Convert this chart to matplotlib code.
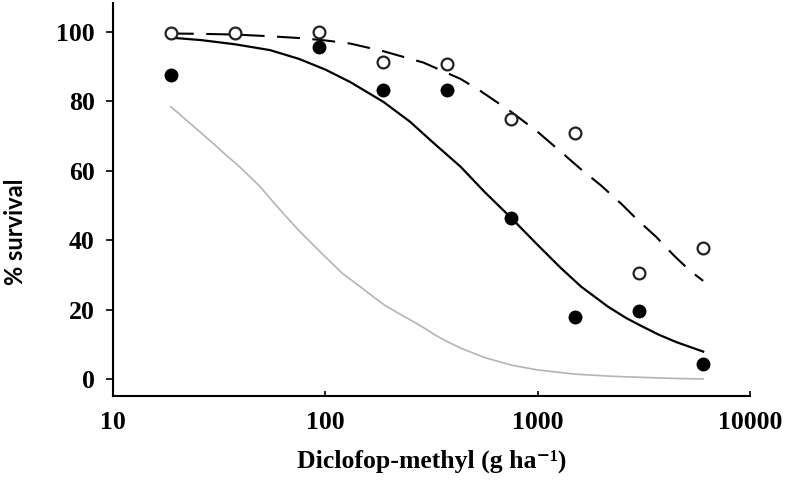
import matplotlib
matplotlib.use("Agg")
from matplotlib import pyplot as plt

plt.rcParams["font.family"] = ["Liberation Serif", "DejaVu Serif"]
plt.rcParams["font.weight"] = "bold"

# doses (g ha-1) and observed survival
dose_open = [18.75, 37.5, 93.75, 187.5, 375, 750, 1500, 3000, 6000]
surv_open = [99.8, 99.8, 100.0, 91.4, 90.8, 74.9, 70.8, 30.5, 37.7]
dose_fill = [18.75, 93.75, 187.5, 375, 750, 1500, 3000, 6000]
surv_fill = [87.5, 95.7, 83.3, 83.3, 46.4, 18.0, 19.6, 4.3]

# fitted curves
dash_x = [18.75, 26, 37.5, 55, 75, 100, 131, 187.5, 290, 433, 538, 750, 1000, 1283, 1600, 1982, 2500, 2951, 3600, 4385, 5200, 6000]
dash_y = [99.6, 99.5, 99.3, 98.8, 98.3, 97.6, 96.7, 94.5, 91.2, 86.5, 83.0, 77.0, 71.2, 65.5, 60.4, 55.8, 50.2, 45.8, 41.0, 35.5, 31.2, 28.3]

solid_x = [18.75, 26, 37.5, 55, 75, 100, 131, 187.5, 250, 325, 433, 560, 750, 1000, 1283, 1600, 2133, 2600, 3000, 3700, 4500, 6000]
solid_y = [98.4, 97.7, 96.5, 94.8, 92.3, 89.2, 85.6, 79.9, 74.2, 67.9, 61.2, 54.0, 46.4, 38.6, 32.0, 26.6, 20.9, 17.6, 15.6, 12.8, 10.6, 7.9]

gray_x = [18.75, 21, 24, 27, 30.3, 34, 39, 44, 49.4, 56, 65, 74, 84.6, 100, 120, 146, 170, 190, 220, 252, 290, 330, 380, 434, 560, 750, 1000, 1500, 2200, 3000, 4200, 6000]
gray_y = [78.5, 75.9, 72.8, 70.1, 67.4, 64.6, 61.5, 58.4, 55.4, 51.5, 47.0, 43.2, 39.6, 35.2, 30.5, 26.6, 23.5, 21.3, 19.0, 17.0, 14.8, 12.6, 10.6, 8.9, 6.2, 4.0, 2.6, 1.4, 0.8, 0.5, 0.2, 0.0]

fig = plt.figure(figsize=(7.89, 4.95), dpi=100)
ax = fig.add_axes([0.143, 0.2, 0.808, 0.794])

ax.plot(gray_x, gray_y, color="#b4b4b4", lw=1.2)
ax.plot(solid_x, solid_y, color="black", lw=1.6)
ax.plot(dash_x, dash_y, color="black", lw=1.5, dashes=(11, 6))
ax.plot(dose_fill, surv_fill, "o", color="black", ms=9, zorder=5)
ax.plot(dose_open, surv_open, "o", mfc="white", mec="#222222", mew=1.6, ms=8.5, zorder=6)

ax.set_xscale("log")
ax.set_xlim(10, 10000)
ax.set_ylim(-4.9, 108.4)
ax.set_yticks([0, 20, 40, 60, 80, 100])
ax.set_xticks([10, 100, 1000, 10000])
ax.set_xticklabels(["10", "100", "1000", "10000"])
ax.minorticks_off()

for s in ["top", "right"]:
    ax.spines[s].set_visible(False)
for s in ["left", "bottom"]:
    ax.spines[s].set_linewidth(1.5)

ax.tick_params(axis="y", direction="out", length=5, width=1.2, pad=8, labelsize=18.5)
ax.tick_params(axis="x", direction="in", length=3.5, width=1.2, pad=11, labelsize=18.5)

ax.set_xlabel("Diclofop-methyl (g ha\u207b\u00b9)", fontsize=18.5, fontweight="bold", labelpad=11)
ax.set_ylabel("% survival", family="Lato", fontsize=17, fontweight="bold")
ax.yaxis.set_label_coords(-0.135, 0.417)

fig.savefig("out.png", dpi=100)
